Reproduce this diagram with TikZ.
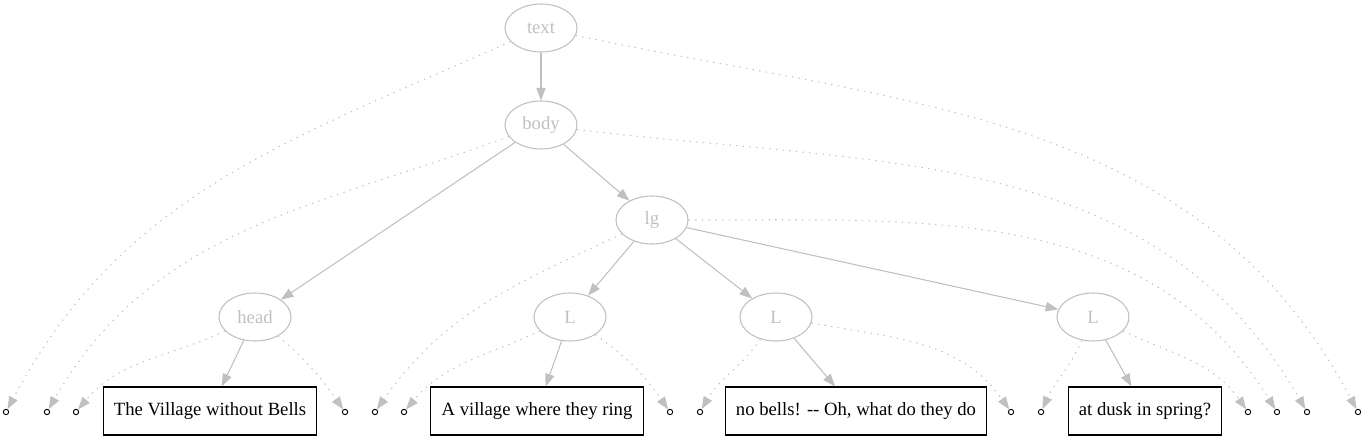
\documentclass[tikz,border=0pt]{standalone}
\usepackage{fontspec}
\setmainfont{Liberation Serif}
\usetikzlibrary{arrows.meta,shapes.geometric}
\definecolor{TGray}{HTML}{C0C0C0}

\begin{document}
\begin{tikzpicture}[x=0.75pt,y=-0.75pt,
        elem/.style={ellipse,draw=TGray,text=TGray,line width=0.8pt,minimum width=54pt,minimum height=36pt,inner sep=0pt},
        leaf/.style={rectangle,draw=black,line width=0.8pt,minimum height=36pt,inner xsep=8pt},
        stub/.style={circle,draw=black,line width=0.7pt,minimum size=4pt,inner sep=0pt},
        tree/.style={draw=TGray,line width=0.8pt,-{Triangle[length=9.5pt,width=7pt]}},
        span/.style={tree,dash pattern=on 1pt off 4pt}]
        \useasboundingbox (0,0) rectangle (1365,443);
        \fontsize{14}{16}\selectfont
        % element nodes
        \node[elem] (t) at (541,28) {text};
        \node[elem] (b) at (541,125) {body};
        \node[elem] (g) at (652,220) {lg};
        \node[elem] (h) at (255,317) {head};
        \node[elem] (l1) at (570,317) {L};
        \node[elem] (l2) at (776,317) {L};
        \node[elem] (l3) at (1093,317) {L};
        % text leaves
        \node[leaf] (x1) at (210,411) {The Village without Bells};
        \node[leaf] (x2) at (537,411) {A village where they ring};
        \node[leaf] (x3) at (856,411) {no bells! -{}- Oh, what do they do};
        \node[leaf] (x4) at (1145,411) {at dusk in spring?};
        % start and end markers
        \node[stub] (tL) at (6,412) {};
        \node[stub] (bL) at (47,412) {};
        \node[stub] (hL) at (76,412) {};
        \node[stub] (hR) at (345,412) {};
        \node[stub] (gL) at (375,412) {};
        \node[stub] (aL) at (404,412) {};
        \node[stub] (aR) at (670,412) {};
        \node[stub] (nL) at (700,412) {};
        \node[stub] (nR) at (1011,412) {};
        \node[stub] (dL) at (1041,412) {};
        \node[stub] (dR) at (1248,412) {};
        \node[stub] (gR) at (1277,412) {};
        \node[stub] (bR) at (1307,412) {};
        \node[stub] (tR) at (1358,412) {};
        % tree edges
        \draw[tree] (t) -- (b);
        \draw[tree] (b) -- (h);
        \draw[tree] (b) -- (g);
        \draw[tree] (g) -- (l1);
        \draw[tree] (g) -- (l2);
        \draw[tree] (g) -- (l3);
        \draw[tree] (h) -- (x1);
        \draw[tree] (l1) -- (x2);
        \draw[tree] (l2) -- (x3);
        \draw[tree] (l3) -- (x4);
        % dotted spans
        \draw[span] (t) to[out=204,in=62] (tL);
        \draw[span] (t) to[out=-12,in=118] (tR);
        \draw[span] (b) to[out=200,in=60] (bL);
        \draw[span] (b) to[out=-7,in=120] (bR);
        \draw[span] (g) to[out=205,in=55] (gL);
        \draw[span] (g) to[out=0,in=122] (gR);
        \draw[span] (h) to[out=205,in=50] (hL);
        \draw[span] (h) to[out=-40,in=125] (hR);
        \draw[span] (l1) to[out=205,in=50] (aL);
        \draw[span] (l1) to[out=-35,in=125] (aR);
        \draw[span] (l2) to[out=235,in=60] (nL);
        \draw[span] (l2) to[out=-10,in=125] (nR);
        \draw[span] (l3) to[out=245,in=65] (dL);
        \draw[span] (l3) to[out=-25,in=125] (dR);
\end{tikzpicture}
\end{document}
